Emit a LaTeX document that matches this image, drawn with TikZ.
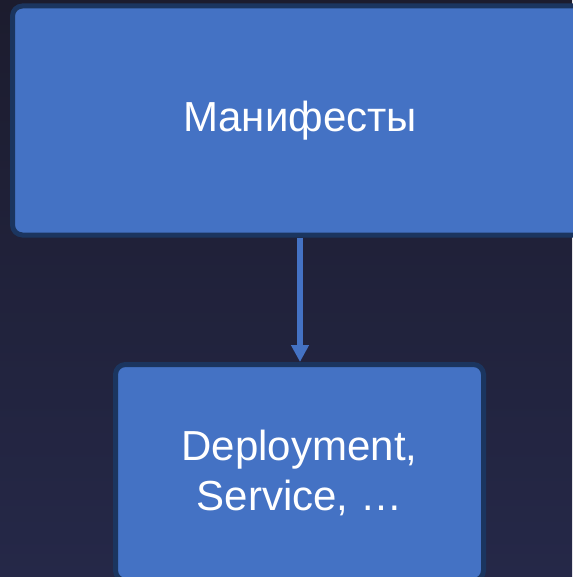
\documentclass[tikz,border=0pt]{standalone}
\usepackage{fontspec}
\setmainfont{Liberation Sans}
\usetikzlibrary{arrows.meta}
\definecolor{bgtop}{HTML}{1C1C2E}
\definecolor{bgbot}{HTML}{252848}
\definecolor{boxfill}{HTML}{4472C4}
\definecolor{boxline}{HTML}{1B355F}
\tikzset{
  card/.style={draw=boxline, fill=boxfill, line width=5pt, rounded corners=10pt,
    text=white, align=center, inner sep=0pt,
    font=\fontsize{42}{50}\selectfont},
  flow/.style={draw=boxfill, line width=5.5pt,
    -{Triangle[length=17pt,width=17pt]}}
}
\begin{document}
\begin{tikzpicture}[x=1pt,y=-1pt]
  \useasboundingbox (0,0) rectangle (572,577);
  \shade[top color=bgtop, bottom color=bgbot] (0,0) rectangle (572,577);
  \node[card, minimum width=575pt, minimum height=229pt] (manifests) at (300,120.5) {Манифесты};
  \node[card, minimum width=368pt, minimum height=216pt] (objects) at (299.5,472.5) {Deployment,\\Service, …};
  \draw[flow] (manifests.south -| 300,0) -- (objects.north -| 300,0);
\end{tikzpicture}
\end{document}
